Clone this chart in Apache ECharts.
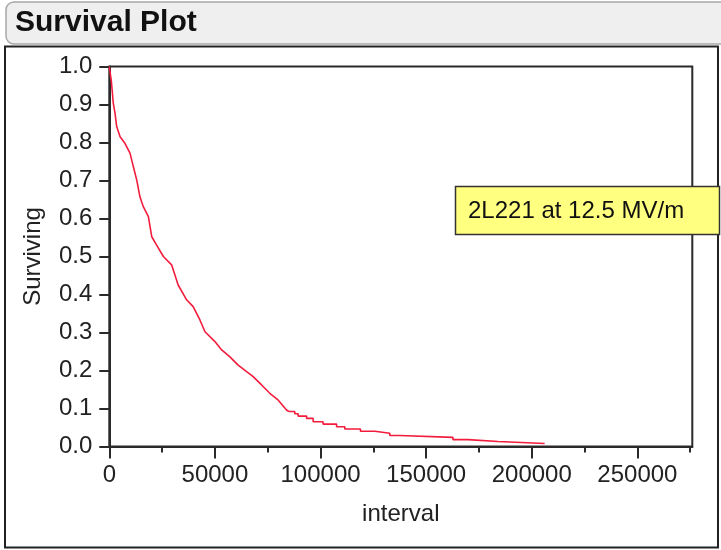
<!DOCTYPE html>
<html>
<head>
<meta charset="utf-8">
<script src="https://cdn.jsdelivr.net/npm/echarts@6/dist/echarts.min.js"></script>
<style>
html,body{margin:0;padding:0;background:#fff;}
#chart{width:721px;height:550px;}
</style>
</head>
<body>
<div id="chart"></div>
<script>
// Kaplan-Meier survival curve
// steep part (dense small steps, drawn as a polyline)
const headX = [0, 1000, 1900, 2700, 3500, 5100, 7400, 9800, 11400, 13000, 14500, 16100, 18500, 20100, 22400, 25600, 29500, 32600, 36600, 39700, 42900, 45300, 50000, 53200, 57100, 61000, 65000, 68100, 72100, 76000, 80000, 83900, 85000];
const headY = [1.0, 0.96, 0.903, 0.877, 0.842, 0.815, 0.798, 0.772, 0.736, 0.701, 0.657, 0.631, 0.605, 0.552, 0.530, 0.500, 0.478, 0.425, 0.386, 0.368, 0.333, 0.302, 0.276, 0.254, 0.236, 0.214, 0.197, 0.184, 0.162, 0.140, 0.122, 0.096, 0.092];
// tail: visible steps (x where each level starts, level)
const tailX = [85000, 87800, 89400, 93400, 96500, 101200, 107600, 111500, 118900, 125700, 132800, 137500, 162700, 169800, 184000, 206100];
const tailY = [0.092, 0.086, 0.080, 0.074, 0.065, 0.059, 0.052, 0.046, 0.040, 0.035, 0.029, 0.024, 0.018, 0.013, 0.008, 0.008];

const xTicks = [0, 50000, 100000, 150000, 200000, 250000];
const xMinorTicks = [25000, 75000, 125000, 175000, 225000, 275000];
const yTicks = [0, 0.1, 0.2, 0.3, 0.4, 0.5, 0.6, 0.7, 0.8, 0.9, 1.0];
const xMax = 276000;

const titleText = 'Survival Plot';
const xName = 'interval';
const yName = 'Surviving';
const noteText = '2L221 at 12.5 MV/m';

const FONT = '"Liberation Sans", Arial, sans-serif';
const RED = '#f21c3c';
const AX = '#2a2a2a';

const chart = echarts.init(document.getElementById('chart'), null, {renderer: 'canvas'});
chart.setOption({
  animation: false,
  backgroundColor: '#ffffff',
  textStyle: {fontFamily: FONT},
  grid: {left: 109.3, right: 28.7, top: 66.5, bottom: 103.5, show: true, borderColor: AX, borderWidth: 2, backgroundColor: 'transparent'},
  xAxis: [{
    type: 'value', min: 0, max: xMax, interval: 50000,
    name: xName, nameLocation: 'middle', nameGap: 56,
    nameTextStyle: {fontSize: 24, color: '#222', fontFamily: FONT},
    axisLine: {show: true, onZero: false, lineStyle: {color: AX, width: 2}},
    axisTick: {show: true, length: 12, customValues: xTicks, lineStyle: {color: AX, width: 2}},
    axisLabel: {fontSize: 24, color: '#222', margin: 17, customValues: xTicks, fontFamily: FONT,
      formatter: v => String(Math.round(v))},
    splitLine: {show: false}
  }, {
    type: 'value', min: 0, max: xMax, position: 'bottom', gridIndex: 0,
    axisLine: {show: false},
    axisTick: {show: true, length: 6, customValues: xMinorTicks, lineStyle: {color: AX, width: 2}},
    axisLabel: {show: false},
    splitLine: {show: false}
  }],
  yAxis: {
    type: 'value', min: 0, max: 1, interval: 0.1,
    name: yName, nameLocation: 'middle', nameGap: 64,
    nameTextStyle: {fontSize: 24, color: '#222', fontFamily: FONT},
    axisLine: {show: true, onZero: false, lineStyle: {color: AX, width: 2}},
    axisTick: {show: true, length: 10, customValues: yTicks, lineStyle: {color: AX, width: 2}},
    axisLabel: {fontSize: 24, color: '#222', margin: 17, customValues: yTicks, fontFamily: FONT,
      formatter: v => Number(v).toFixed(1)},
    splitLine: {show: false}
  },
  series: [{
    type: 'line', xAxisIndex: 0,
    data: headX.map((x, i) => [x, headY[i]]),
    showSymbol: false, symbol: 'none',
    lineStyle: {color: RED, width: 1.6},
    z: 5
  }, {
    type: 'line', xAxisIndex: 0, step: 'end',
    data: tailX.map((x, i) => [x, tailY[i]]),
    showSymbol: false, symbol: 'none',
    lineStyle: {color: RED, width: 1.6},
    z: 5
  }],
  graphic: [
    {type: 'rect', shape: {x: 6, y: 2, width: 730, height: 42, r: 8},
     style: {fill: '#efefef', stroke: '#a8a8a8', lineWidth: 1.5}, z: 1},
    {type: 'text', x: 15, y: 23,
     style: {text: titleText, font: 'bold 30px "Liberation Sans", Arial, sans-serif', fill: '#111', textVerticalAlign: 'middle'}, z: 2},
    {type: 'rect', shape: {x: 5, y: 46.5, width: 713, height: 501},
     style: {fill: 'none', stroke: '#222', lineWidth: 2}, z: 1},
    {type: 'rect', shape: {x: 455.5, y: 186.5, width: 264, height: 48},
     style: {fill: '#ffff80', stroke: '#333', lineWidth: 1.5}, z: 10},
    {type: 'text', x: 468, y: 211,
     style: {text: noteText, font: '24px "Liberation Sans", Arial, sans-serif', fill: '#111', textVerticalAlign: 'middle'}, z: 11}
  ]
});
</script>
</body>
</html>
